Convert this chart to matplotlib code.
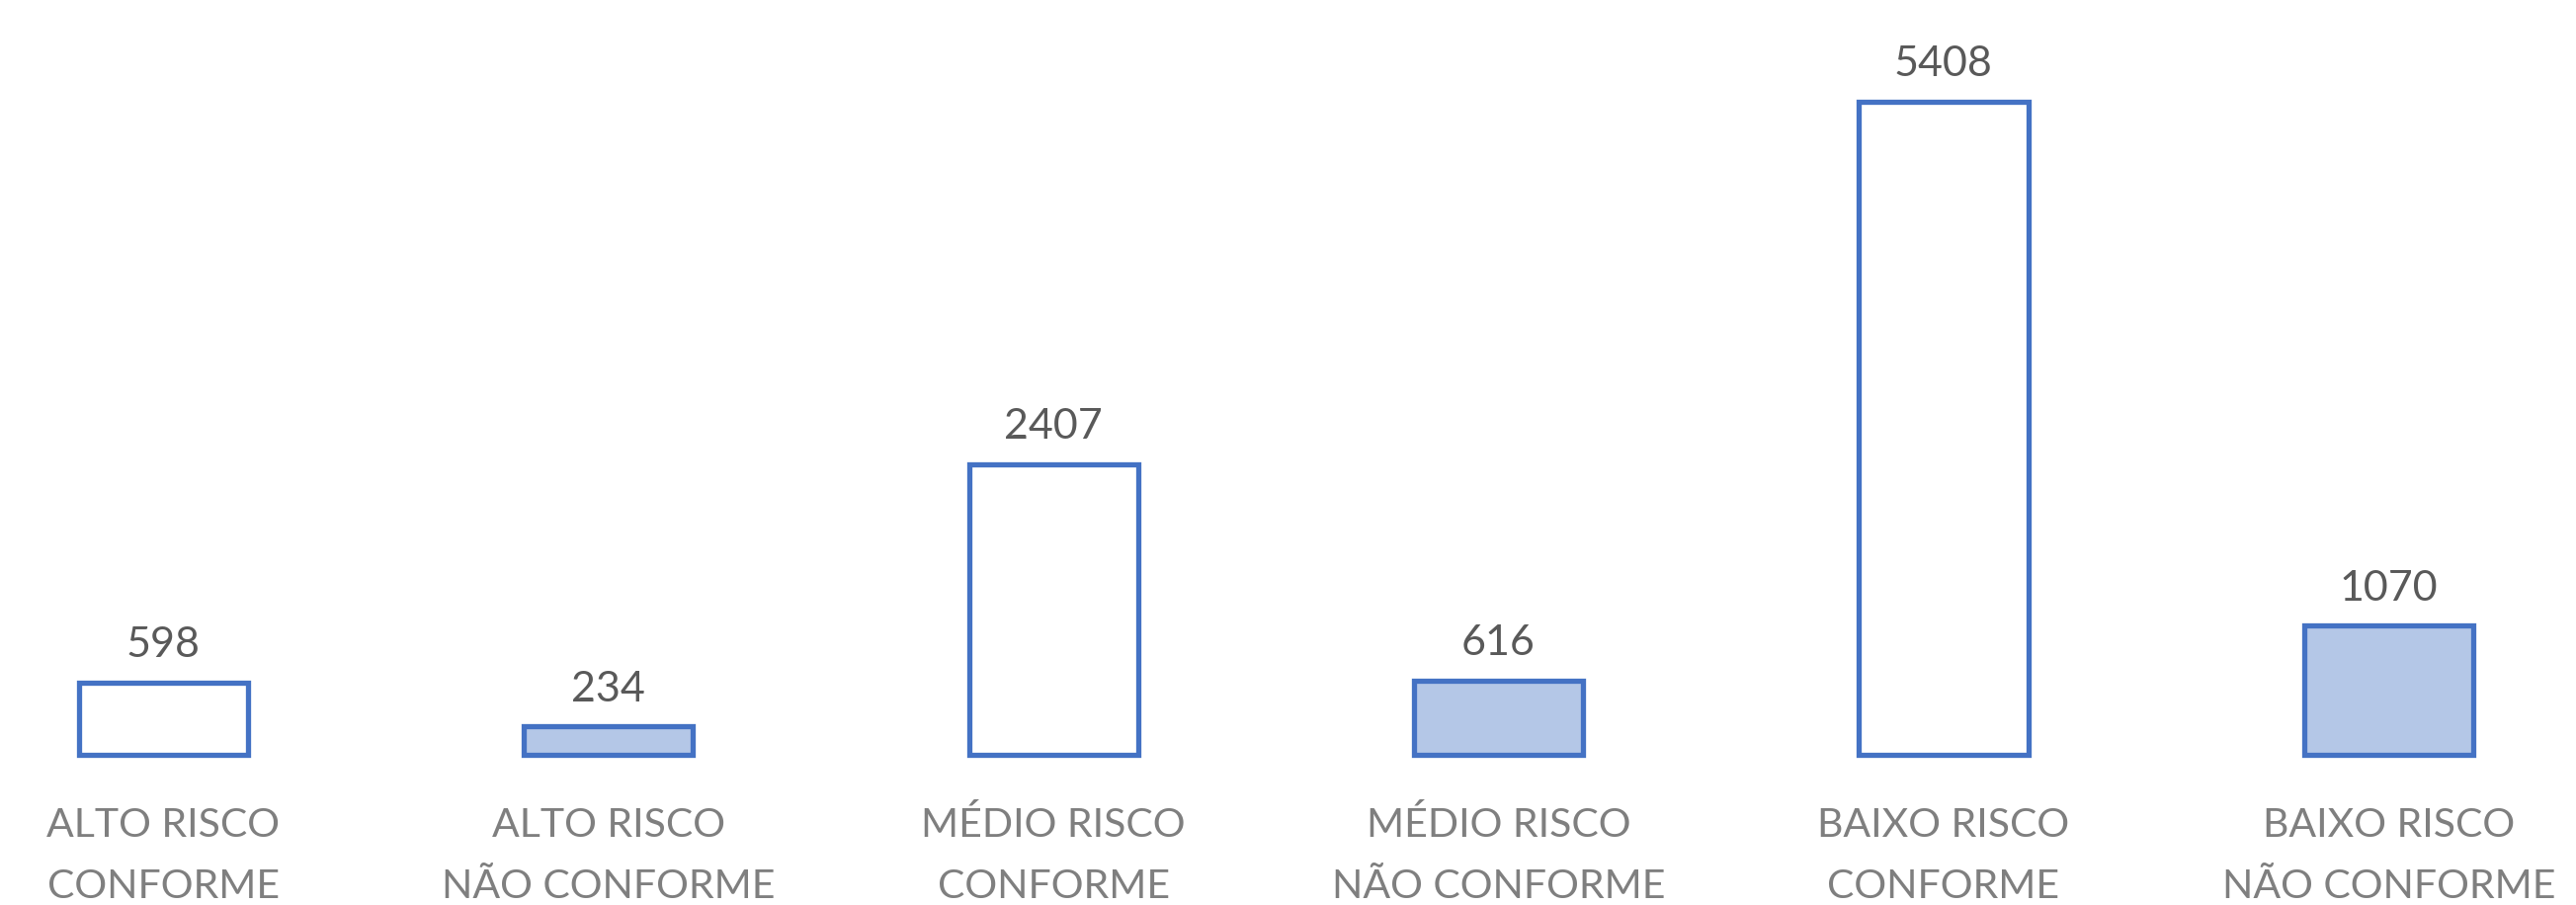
import matplotlib
matplotlib.use("Agg")
import matplotlib.pyplot as plt
import matplotlib.transforms as mtransforms

categories_line1 = ["ALTO RISCO", "ALTO RISCO", "MÉDIO RISCO", "MÉDIO RISCO", "BAIXO RISCO", "BAIXO RISCO"]
categories_line2 = ["CONFORME", "NÃO CONFORME", "CONFORME", "NÃO CONFORME", "CONFORME", "NÃO CONFORME"]
values = [598, 234, 2407, 616, 5408, 1070]
filled = [False, True, False, True, False, True]

EDGE = "#4472C4"
FILL = "#B4C7E7"
VAL_COLOR = "#595959"
CAT_COLOR = "#7F7F7F"
FONT = ["Lato", "DejaVu Sans"]

W, H, DPI = 2607, 916, 100
fig = plt.figure(figsize=(W / DPI, H / DPI), dpi=DPI)
baseline_px = 764
ax = fig.add_axes([0, (H - baseline_px) / H, 1, baseline_px / H])
ax.set_xlim(-0.367, 5.421)
ax.set_ylim(0, 6247)
ax.axis("off")

x = list(range(len(values)))
bars = ax.bar(x, values, width=0.38,
              color=[FILL if f else "white" for f in filled],
              edgecolor=EDGE, linewidth=3.8)
for b in bars:
    b.set_clip_on(False)

for xi, v in zip(x, values):
    ax.annotate(str(v), (xi, v), xytext=(0, 18.4), textcoords="offset points",
                ha="center", va="baseline", fontsize=31, color=VAL_COLOR,
                family=FONT, annotation_clip=False)

trans = mtransforms.blended_transform_factory(ax.transData, fig.transFigure)
for xi, l1, l2 in zip(x, categories_line1, categories_line2):
    ax.text(xi, (H - 847) / H, l1, transform=trans, ha="center", va="baseline",
            fontsize=29.5, color=CAT_COLOR, family=FONT, clip_on=False)
    ax.text(xi, (H - 909) / H, l2, transform=trans, ha="center", va="baseline",
            fontsize=29.5, color=CAT_COLOR, family=FONT, clip_on=False)

fig.savefig("out.png", dpi=DPI, facecolor="white")
